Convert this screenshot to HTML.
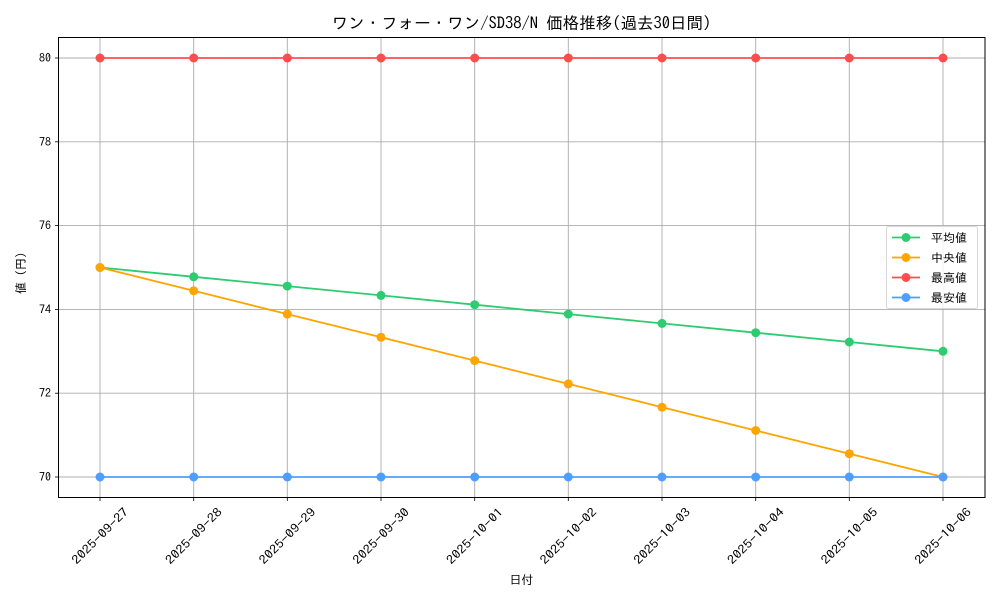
<!DOCTYPE html>
<html><head><meta charset="utf-8"><style>
html,body{margin:0;padding:0;background:#fff;}
svg{display:block;font-family:"IPAGothic","Liberation Sans","Noto Sans CJK JP",sans-serif;}
</style></head><body>
<svg width="1000" height="600" viewBox="0 0 1000 600" xmlns="http://www.w3.org/2000/svg">
<rect width="1000" height="600" fill="#fff"/>
<g stroke="#acacac" stroke-width="0.9">
<line x1="100" y1="37" x2="100" y2="497"/><line x1="193.7" y1="37" x2="193.7" y2="497"/><line x1="287.3" y1="37" x2="287.3" y2="497"/><line x1="381" y1="37" x2="381" y2="497"/><line x1="474.7" y1="37" x2="474.7" y2="497"/><line x1="568.3" y1="37" x2="568.3" y2="497"/><line x1="662" y1="37" x2="662" y2="497"/><line x1="755.7" y1="37" x2="755.7" y2="497"/><line x1="849.3" y1="37" x2="849.3" y2="497"/><line x1="943" y1="37" x2="943" y2="497"/>
<line x1="58" y1="477" x2="985" y2="477"/><line x1="58" y1="393.2" x2="985" y2="393.2"/><line x1="58" y1="309.4" x2="985" y2="309.4"/><line x1="58" y1="225.6" x2="985" y2="225.6"/><line x1="58" y1="141.8" x2="985" y2="141.8"/><line x1="58" y1="58" x2="985" y2="58"/>
</g>
<g stroke-width="1.8" fill="none">
<polyline stroke="#2ecc71" points="100,267.5 193.7,276.8 287.3,286.1 381,295.4 474.7,304.7 568.3,314.1 662,323.4 755.7,332.7 849.3,342 943,351.3"/>
<polyline stroke="#ffa500" points="100,267.5 193.7,290.8 287.3,314.1 381,337.3 474.7,360.6 568.3,383.9 662,407.2 755.7,430.5 849.3,453.7 943,477"/>
<polyline stroke="#ff4d4d" points="100,58 943,58"/>
<polyline stroke="#4d9fff" points="100,477 943,477"/>
</g>
<g fill="#2ecc71"><circle cx="100" cy="267.5" r="4.5"/><circle cx="193.7" cy="276.8" r="4.5"/><circle cx="287.3" cy="286.1" r="4.5"/><circle cx="381" cy="295.4" r="4.5"/><circle cx="474.7" cy="304.7" r="4.5"/><circle cx="568.3" cy="314.1" r="4.5"/><circle cx="662" cy="323.4" r="4.5"/><circle cx="755.7" cy="332.7" r="4.5"/><circle cx="849.3" cy="342" r="4.5"/><circle cx="943" cy="351.3" r="4.5"/></g>
<g fill="#ffa500"><circle cx="100" cy="267.5" r="4.5"/><circle cx="193.7" cy="290.8" r="4.5"/><circle cx="287.3" cy="314.1" r="4.5"/><circle cx="381" cy="337.3" r="4.5"/><circle cx="474.7" cy="360.6" r="4.5"/><circle cx="568.3" cy="383.9" r="4.5"/><circle cx="662" cy="407.2" r="4.5"/><circle cx="755.7" cy="430.5" r="4.5"/><circle cx="849.3" cy="453.7" r="4.5"/><circle cx="943" cy="477" r="4.5"/></g>
<g fill="#ff4d4d"><circle cx="100" cy="58" r="4.5"/><circle cx="193.7" cy="58" r="4.5"/><circle cx="287.3" cy="58" r="4.5"/><circle cx="381" cy="58" r="4.5"/><circle cx="474.7" cy="58" r="4.5"/><circle cx="568.3" cy="58" r="4.5"/><circle cx="662" cy="58" r="4.5"/><circle cx="755.7" cy="58" r="4.5"/><circle cx="849.3" cy="58" r="4.5"/><circle cx="943" cy="58" r="4.5"/></g>
<g fill="#4d9fff"><circle cx="100" cy="477" r="4.5"/><circle cx="193.7" cy="477" r="4.5"/><circle cx="287.3" cy="477" r="4.5"/><circle cx="381" cy="477" r="4.5"/><circle cx="474.7" cy="477" r="4.5"/><circle cx="568.3" cy="477" r="4.5"/><circle cx="662" cy="477" r="4.5"/><circle cx="755.7" cy="477" r="4.5"/><circle cx="849.3" cy="477" r="4.5"/><circle cx="943" cy="477" r="4.5"/></g>
<rect x="58.5" y="37.5" width="926.5" height="460" fill="none" stroke="#000" stroke-width="1"/>
<g stroke="#000" stroke-width="0.8">
<line x1="100" y1="497.5" x2="100" y2="501"/><line x1="193.7" y1="497.5" x2="193.7" y2="501"/><line x1="287.3" y1="497.5" x2="287.3" y2="501"/><line x1="381" y1="497.5" x2="381" y2="501"/><line x1="474.7" y1="497.5" x2="474.7" y2="501"/><line x1="568.3" y1="497.5" x2="568.3" y2="501"/><line x1="662" y1="497.5" x2="662" y2="501"/><line x1="755.7" y1="497.5" x2="755.7" y2="501"/><line x1="849.3" y1="497.5" x2="849.3" y2="501"/><line x1="943" y1="497.5" x2="943" y2="501"/>
<line x1="55" y1="477" x2="58.5" y2="477"/><line x1="55" y1="393.2" x2="58.5" y2="393.2"/><line x1="55" y1="309.4" x2="58.5" y2="309.4"/><line x1="55" y1="225.6" x2="58.5" y2="225.6"/><line x1="55" y1="141.8" x2="58.5" y2="141.8"/><line x1="55" y1="58" x2="58.5" y2="58"/>
</g>
<g font-size="12" text-anchor="end" fill="#000">
<text x="51" y="481">70</text><text x="51" y="397.2">72</text><text x="51" y="313.4">74</text><text x="51" y="229.6">76</text><text x="51" y="145.8">78</text><text x="51" y="62">80</text>
</g>
<g font-size="12" text-anchor="middle" fill="#000">
<text transform="translate(103,539) rotate(-45)" textLength="74" lengthAdjust="spacingAndGlyphs">2025-09-27</text>
<text transform="translate(196.7,539) rotate(-45)" textLength="74" lengthAdjust="spacingAndGlyphs">2025-09-28</text>
<text transform="translate(290.3,539) rotate(-45)" textLength="74" lengthAdjust="spacingAndGlyphs">2025-09-29</text>
<text transform="translate(384,539) rotate(-45)" textLength="74" lengthAdjust="spacingAndGlyphs">2025-09-30</text>
<text transform="translate(477.7,539) rotate(-45)" textLength="74" lengthAdjust="spacingAndGlyphs">2025-10-01</text>
<text transform="translate(571.3,539) rotate(-45)" textLength="74" lengthAdjust="spacingAndGlyphs">2025-10-02</text>
<text transform="translate(665,539) rotate(-45)" textLength="74" lengthAdjust="spacingAndGlyphs">2025-10-03</text>
<text transform="translate(758.7,539) rotate(-45)" textLength="74" lengthAdjust="spacingAndGlyphs">2025-10-04</text>
<text transform="translate(852.3,539) rotate(-45)" textLength="74" lengthAdjust="spacingAndGlyphs">2025-10-05</text>
<text transform="translate(946,539) rotate(-45)" textLength="74" lengthAdjust="spacingAndGlyphs">2025-10-06</text>
</g>
<text x="521.5" y="584" font-size="12" text-anchor="middle">日付</text>
<text transform="translate(25,270) rotate(-90)" font-size="12" text-anchor="middle">値（円）</text>
<text x="521.5" y="29" font-size="16.5" text-anchor="middle">ワン・フォー・ワン/SD38/N 価格推移(過去30日間)</text>
<rect x="886.5" y="226.5" width="91" height="82" rx="2" fill="#fff" fill-opacity="0.8" stroke="#d8d8d8"/>
<g stroke-width="1.8">
<line x1="892" y1="237.5" x2="920" y2="237.5" stroke="#2ecc71"/><circle cx="906" cy="237.5" r="4.5" fill="#2ecc71"/>
<line x1="892" y1="257.5" x2="920" y2="257.5" stroke="#ffa500"/><circle cx="906" cy="257.5" r="4.5" fill="#ffa500"/>
<line x1="892" y1="277.5" x2="920" y2="277.5" stroke="#ff4d4d"/><circle cx="906" cy="277.5" r="4.5" fill="#ff4d4d"/>
<line x1="892" y1="297.5" x2="920" y2="297.5" stroke="#4d9fff"/><circle cx="906" cy="297.5" r="4.5" fill="#4d9fff"/>
</g>
<g font-size="12">
<text x="931" y="242">平均値</text><text x="931" y="262">中央値</text><text x="931" y="282">最高値</text><text x="931" y="302">最安値</text>
</g>
</svg>
</body></html>
